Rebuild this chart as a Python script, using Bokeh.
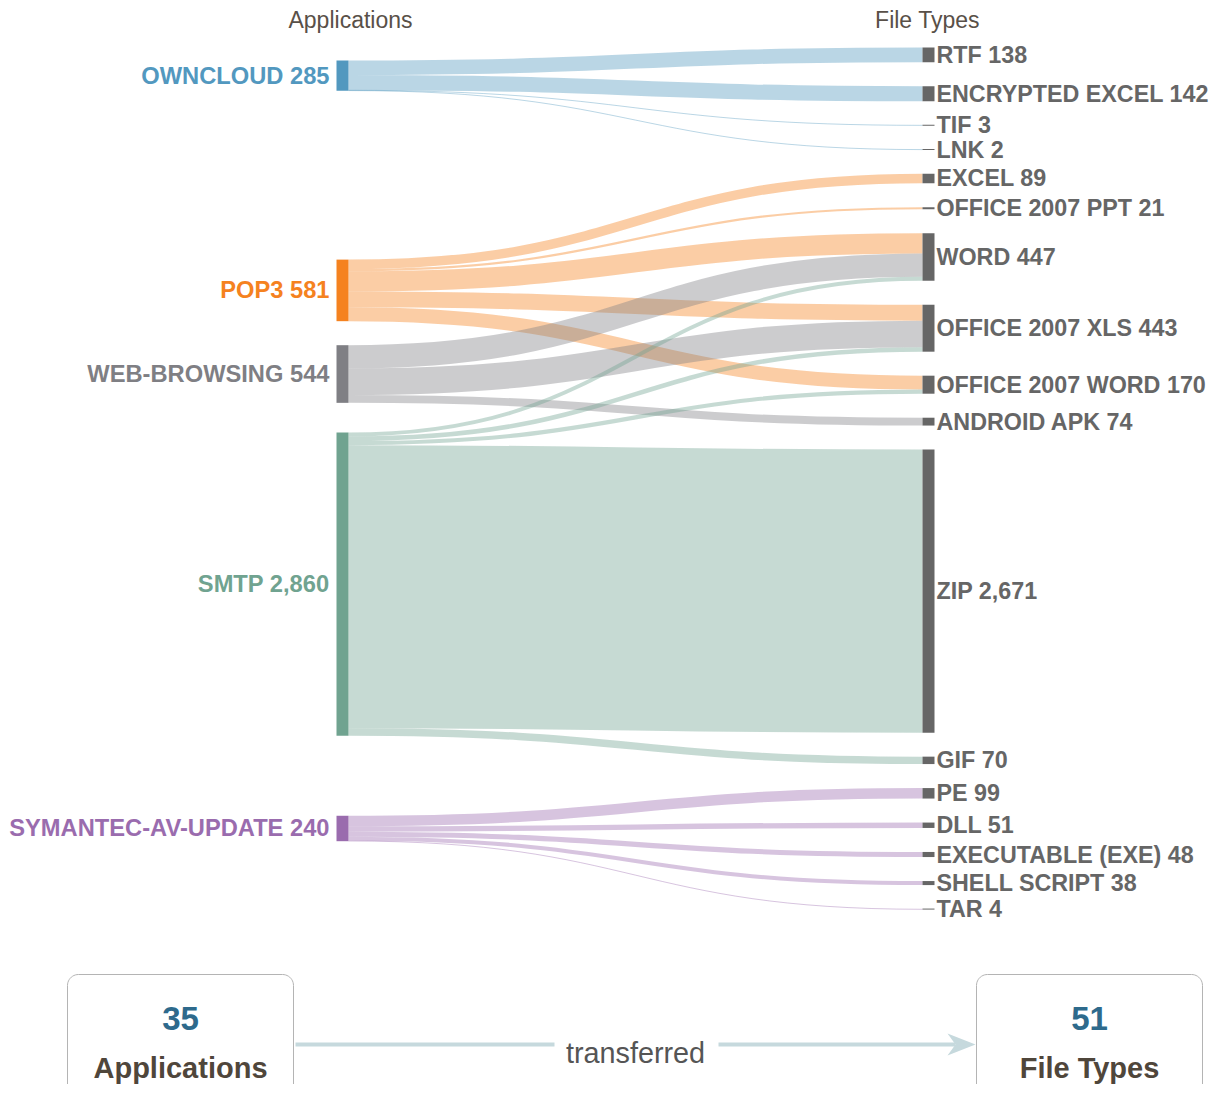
import numpy as np
from bokeh.plotting import figure
from bokeh.models import Range1d, ColumnDataSource
from bokeh.core.properties import value
from bokeh.embed import file_html
from bokeh.resources import INLINE

# ---------------- data ----------------
src_names = ["OWNCLOUD", "POP3", "WEB-BROWSING", "SMTP", "SYMANTEC-AV-UPDATE"]
src_values = [285, 581, 544, 2860, 240]
src_colors = ["#5298bf", "#f5821f", "#7f7f84", "#70a390", "#9a6cae"]

tgt_names = ["RTF", "ENCRYPTED EXCEL", "TIF", "LNK", "EXCEL", "OFFICE 2007 PPT",
             "WORD", "OFFICE 2007 XLS", "OFFICE 2007 WORD", "ANDROID APK", "ZIP",
             "GIF", "PE", "DLL", "EXECUTABLE (EXE)", "SHELL SCRIPT", "TAR"]
tgt_values = [138, 142, 3, 2, 89, 21, 447, 443, 170, 74, 2671, 70, 99, 51, 48, 38, 4]

link_source = ["OWNCLOUD"] * 4 + ["POP3"] * 5 + ["WEB-BROWSING"] * 3 + ["SMTP"] * 5 + ["SYMANTEC-AV-UPDATE"] * 5
link_target = ["RTF", "ENCRYPTED EXCEL", "TIF", "LNK",
               "EXCEL", "OFFICE 2007 PPT", "WORD", "OFFICE 2007 XLS", "OFFICE 2007 WORD",
               "WORD", "OFFICE 2007 XLS", "ANDROID APK",
               "WORD", "OFFICE 2007 XLS", "OFFICE 2007 WORD", "ZIP", "GIF",
               "PE", "DLL", "EXECUTABLE (EXE)", "SHELL SCRIPT", "TAR"]
link_value = [138, 142, 3, 2,
              89, 21, 190, 150, 131,
              220, 250, 74,
              37, 43, 39, 2671, 70,
              99, 51, 48, 38, 4]

app_count = 35
filetype_count = 51
col_titles = ["Applications", "File Types"]
summary_labels = ["Applications", "File Types"]
verb = "transferred"

# ---------------- layout ----------------
W, H = 1212, 1084
TOP, BOTTOM, GAP = 47.0, 909.0, 24.0
LX0, LX1 = 336.0, 348.0
RX0, RX1 = 922.0, 934.0

k = (BOTTOM - TOP - GAP * (len(tgt_values) - 1)) / sum(tgt_values)

tgt_y0 = {}
y = TOP
for n, v in zip(tgt_names, tgt_values):
    tgt_y0[n] = y
    y += v * k + GAP
tgt_h = {n: v * k for n, v in zip(tgt_names, tgt_values)}
tgt_c = {n: tgt_y0[n] + tgt_h[n] / 2 for n in tgt_names}

# left node centres: weighted mean of target centres, then collision resolution
src_h = {n: v * k for n, v in zip(src_names, src_values)}
centres = {}
for n in src_names:
    num = sum(v * tgt_c[t] for s, t, v in zip(link_source, link_target, link_value) if s == n)
    den = sum(v for s, v in zip(link_source, link_value) if s == n)
    centres[n] = num / den
order = sorted(src_names, key=lambda n: centres[n])
src_y0 = {}
prev = -1e9
for n in order:
    y0 = max(centres[n] - src_h[n] / 2, prev + GAP)
    src_y0[n] = y0
    prev = y0 + src_h[n]

# link offsets
idx = list(range(len(link_value)))
s_off = {n: 0.0 for n in src_names}
t_off = {n: 0.0 for n in tgt_names}
ys_c = [0.0] * len(idx)
yt_c = [0.0] * len(idx)
for i in sorted(idx, key=lambda i: (src_y0[link_source[i]], tgt_y0[link_target[i]])):
    w = link_value[i] * k
    ys_c[i] = src_y0[link_source[i]] + s_off[link_source[i]] + w / 2
    s_off[link_source[i]] += w
for i in sorted(idx, key=lambda i: (tgt_y0[link_target[i]], src_y0[link_source[i]])):
    w = link_value[i] * k
    yt_c[i] = tgt_y0[link_target[i]] + t_off[link_target[i]] + w / 2
    t_off[link_target[i]] += w

cmap = dict(zip(src_names, src_colors))
xm = (LX1 + RX0) / 2
links = ColumnDataSource(dict(
    x0=[LX1] * len(idx), y0=ys_c, x1=[RX0] * len(idx), y1=yt_c,
    cx0=[xm] * len(idx), cy0=ys_c, cx1=[xm] * len(idx), cy1=yt_c,
    w=[max(1.0, v * k) for v in link_value],
    c=[cmap[s] for s in link_source],
))

p = figure(width=W, height=H, output_backend="svg", toolbar_location=None,
           x_range=Range1d(0, W), y_range=Range1d(H, 0),
           min_border=0, outline_line_color=None, background_fill_color="white")
p.axis.visible = False
p.grid.visible = False

p.bezier("x0", "y0", "x1", "y1", "cx0", "cy0", "cx1", "cy1", source=links,
         line_width="w", line_color="c", line_alpha=0.4, line_cap="butt")

# nodes
p.quad(left=[LX0] * len(src_names), right=[LX1] * len(src_names),
       top=[src_y0[n] for n in src_names],
       bottom=[src_y0[n] + max(1.0, src_h[n]) for n in src_names],
       fill_color=src_colors, line_color=None)
p.quad(left=[RX0] * len(tgt_names), right=[RX1] * len(tgt_names),
       top=[tgt_y0[n] - (0.5 if tgt_h[n] < 1 else 0) for n in tgt_names],
       bottom=[tgt_y0[n] + max(tgt_h[n], 0.5) for n in tgt_names],
       fill_color="#666666", line_color=None)

FONT = value("Liberation Sans")
p.text(x=[LX0 - 7] * len(src_names), y=[src_y0[n] + src_h[n] / 2 for n in src_names],
       text=[f"{n} {v:,}" for n, v in zip(src_names, src_values)],
       text_color=src_colors, text_font=FONT, text_font_style="bold",
       text_font_size="23.7px", text_align="right", text_baseline="middle")
p.text(x=[RX1 + 2] * len(tgt_names), y=[tgt_c[n] for n in tgt_names],
       text=[f"{n} {v:,}" for n, v in zip(tgt_names, tgt_values)],
       text_color="#666666", text_font=FONT, text_font_style="bold",
       text_font_size="23.3px", text_align="left", text_baseline="middle")

# column titles
p.text(x=[350, 927], y=[19, 19], text=col_titles, text_color="#595048",
       text_font=FONT, text_font_size="23px", text_align="center", text_baseline="middle")

# ---------------- summary boxes ----------------
def rounded_box(x0, x1, y0, y1, r):
    pts_x, pts_y = [], []
    t = np.linspace(0, np.pi / 2, 12)
    pts_x += list(x0 + r - r * np.cos(t)); pts_y += list(y0 + r - r * np.sin(t))
    pts_x += list(x1 - r + r * np.sin(t)); pts_y += list(y0 + r - r * np.cos(t))
    pts_x += list(x1 - r + r * np.cos(t)); pts_y += list(y1 - r + r * np.sin(t))
    pts_x += list(x0 + r - r * np.sin(t)); pts_y += list(y1 - r + r * np.cos(t))
    return pts_x, pts_y

for bx0, bx1 in [(67, 293), (976, 1202)]:
    xs, ys = rounded_box(bx0, bx1, 974, 1130, 11)
    p.patch(xs, ys, fill_color="white", line_color="#b4b4b4", line_width=1)

p.text(x=[180, 1089], y=[1018, 1018], text=[str(app_count), str(filetype_count)],
       text_color="#2e6a8c", text_font=FONT, text_font_style="bold",
       text_font_size="33px", text_align="center", text_baseline="middle")
p.text(x=[180, 1089], y=[1067, 1067], text=summary_labels,
       text_color="#4f463b", text_font=FONT, text_font_style="bold",
       text_font_size="29px", text_align="center", text_baseline="middle")

p.segment(x0=[295, 718], y0=[1044, 1044], x1=[554, 955], y1=[1044, 1044],
          line_color="#c6d9dd", line_width=4)
p.patch([947, 975, 947, 955], [1033, 1044, 1055, 1044],
        fill_color="#c6d9dd", line_color=None)
p.text(x=[635], y=[1052], text=[verb], text_color="#555555", text_font=FONT,
       text_font_size="28.8px", text_align="center", text_baseline="middle")

open("out.html", "w").write(file_html(p, INLINE))
